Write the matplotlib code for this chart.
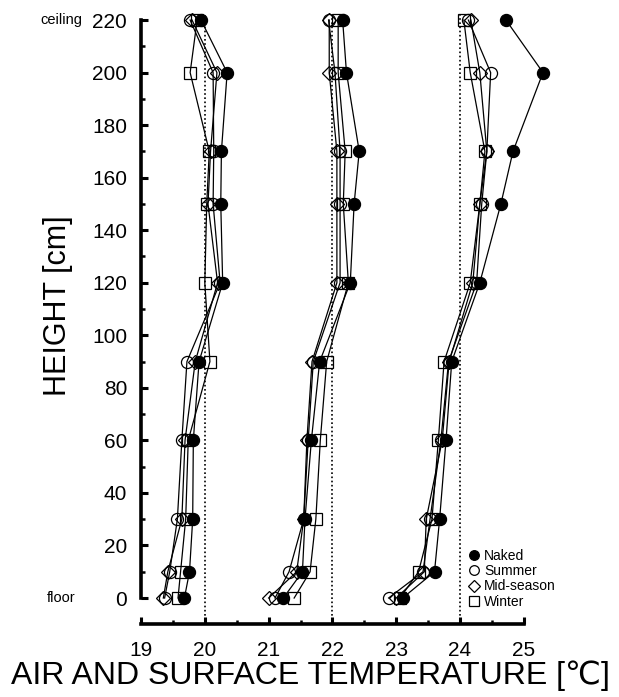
import matplotlib
matplotlib.use("Agg")
import matplotlib.pyplot as plt
from matplotlib.ticker import FixedLocator

plt.rcParams['font.family'] = ['Liberation Sans', 'DejaVu Sans']

heights = [0, 10, 30, 60, 90, 120, 150, 170, 200, 220]

# Group near 20 C
g1_naked   = [19.68, 19.76, 19.81, 19.82, 19.91, 20.28, 20.25, 20.26, 20.35, 19.94]
g1_summer  = [19.37, 19.45, 19.57, 19.64, 19.72, 20.24, 20.13, 20.14, 20.13, 19.77]
g1_mid     = [19.35, 19.42, 19.64, 19.69, 19.85, 20.20, 20.05, 20.09, 20.19, 19.80]
g1_winter  = [19.58, 19.62, 19.70, 19.74, 20.08, 20.00, 20.03, 20.07, 19.77, 19.88]

# Group near 22 C
g2_naked   = [21.23, 21.53, 21.57, 21.67, 21.80, 22.28, 22.34, 22.42, 22.22, 22.16]
g2_summer  = [21.10, 21.32, 21.55, 21.62, 21.70, 22.12, 22.12, 22.12, 22.04, 21.94]
g2_mid     = [21.00, 21.44, 21.55, 21.60, 21.68, 22.07, 22.07, 22.07, 21.95, 21.95]
g2_winter  = [21.40, 21.65, 21.74, 21.81, 21.91, 22.25, 22.17, 22.20, 22.09, 22.09]

# Group near 24 C
g3_naked   = [23.10, 23.60, 23.68, 23.78, 23.87, 24.31, 24.64, 24.83, 25.30, 24.72]
g3_summer  = [22.88, 23.42, 23.53, 23.70, 23.82, 24.26, 24.34, 24.42, 24.48, 24.13]
g3_mid     = [23.00, 23.44, 23.47, 23.72, 23.83, 24.20, 24.31, 24.42, 24.31, 24.17]
g3_winter  = [23.06, 23.35, 23.56, 23.66, 23.75, 24.16, 24.31, 24.39, 24.16, 24.06]

series_labels = ['Naked', 'Summer', 'Mid-season', 'Winter']
x_ticks = [19, 20, 21, 22, 23, 24, 25]
x_minor = [19.5, 20.5, 21.5, 22.5, 23.5, 24.5]
y_ticks = list(range(0, 221, 20))
y_minor = list(range(10, 220, 20))
ref_lines = [20, 22, 24]

fig = plt.figure(figsize=(6.19, 6.97), dpi=100)
ax = fig.add_axes([0.2278, 0.1043, 0.67, 0.8858])

styles = {
    'Naked': dict(marker='o', mfc='black', mec='black', ms=8.7),
    'Summer': dict(marker='o', mfc='none', mec='black', ms=8.7),
    'Mid-season': dict(marker='D', mfc='none', mec='black', ms=7.2),
    'Winter': dict(marker='s', mfc='none', mec='black', ms=8.2),
}

groups = [
    {'Naked': g1_naked, 'Summer': g1_summer, 'Mid-season': g1_mid, 'Winter': g1_winter},
    {'Naked': g2_naked, 'Summer': g2_summer, 'Mid-season': g2_mid, 'Winter': g2_winter},
    {'Naked': g3_naked, 'Summer': g3_summer, 'Mid-season': g3_mid, 'Winter': g3_winter},
]

for xr in ref_lines:
    ax.plot([xr, xr], [-10, 222], linestyle=(0, (1, 1.5)), color='black', lw=1.2, zorder=1)

handles = {}
for g in groups:
    for name in ['Winter', 'Mid-season', 'Summer', 'Naked']:
        st = styles[name]
        ln, = ax.plot(g[name], heights, color='black', lw=0.9, mew=0.9,
                      clip_on=False, zorder=3 if name != 'Naked' else 4, **st)
        handles[name] = ln

ax.set_xlim(19, 25.5)
ax.set_ylim(-10, 225)

for s in ['top', 'right']:
    ax.spines[s].set_visible(False)
ax.spines['left'].set_bounds(0, 220)
ax.spines['bottom'].set_bounds(19, 25)
ax.spines['left'].set_linewidth(2.6)
ax.spines['bottom'].set_linewidth(2.6)

ax.set_xticks(x_ticks)
ax.set_yticks(y_ticks)
ax.xaxis.set_minor_locator(FixedLocator(x_minor))
ax.yaxis.set_minor_locator(FixedLocator(y_minor))
ax.tick_params(axis='both', which='major', direction='in', length=5, width=2.2,
               labelsize=15)
ax.tick_params(axis='x', which='major', pad=12)
ax.tick_params(axis='y', which='major', pad=10)
ax.tick_params(axis='both', which='minor', direction='in', length=3, width=1.8)

fig.text(0.065, 0.9713, 'ceiling', fontsize=10.5, ha='left', va='center')
fig.text(0.075, 0.1420, 'floor', fontsize=10.5, ha='left', va='center')

fig.text(0.094, 0.561, 'HEIGHT [cm]', fontsize=22, rotation=90, ha='center', va='center')
fig.text(0.502, 0.031, 'AIR AND SURFACE TEMPERATURE [\u2103]', fontsize=23,
         ha='center', va='center')

leg = ax.legend([handles[n] for n in series_labels], series_labels,
                loc='lower left', bbox_to_anchor=(0.775, 0.012),
                frameon=False, fontsize=10, handlelength=0.5, handletextpad=0.45,
                labelspacing=0.08, markerscale=0.8, borderpad=0.1)
for h in leg.legend_handles:
    h.set_linestyle('none')

fig.savefig('out.png', dpi=100)
